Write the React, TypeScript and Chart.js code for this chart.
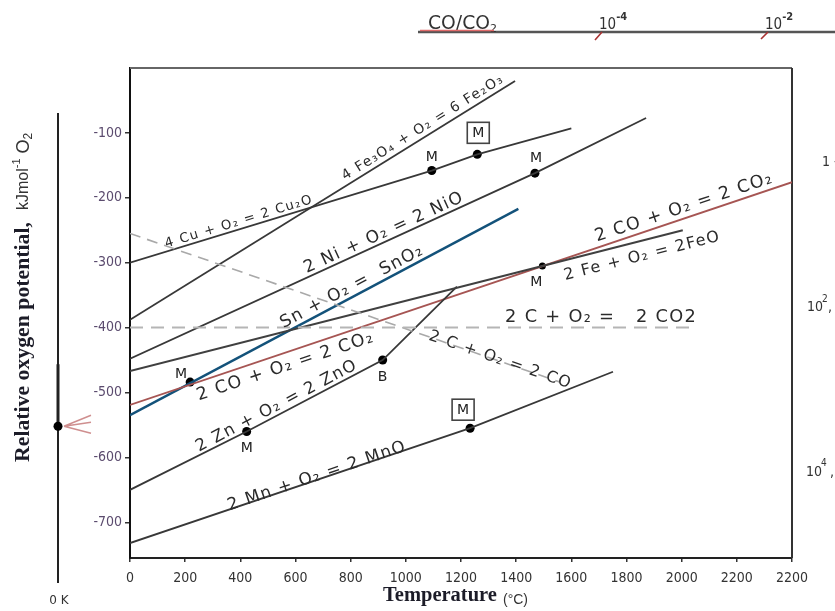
import React, { useEffect, useRef } from "react";
import { Chart, registerables } from "chart.js";

Chart.register(...registerables);

// ---------- data ----------
const xTickValues = [0, 200, 400, 600, 800, 1000, 1200, 1400, 1600, 1800, 2000, 2200, 2400];
const xTickLabels = ["0", "200", "400", "600", "800", "1000", "1200", "1400", "1600", "1800", "2000", "2200", "2200"];
const yTickValues = [-100, -200, -300, -400, -500, -600, -700];

// [temperature °C, relative oxygen potential kJ/mol O2]
const cu2oLine: number[][] = [[0, -300], [1094, -158], [1259, -133], [1600, -93]];
const fe2o3Line: number[][] = [[0, -388], [1396, -20]];
const nioLine: number[][] = [[0, -448], [1468, -162], [1871, -77]];
const sno2Line: number[][] = [[0, -535], [1408, -217]];
const coToCo2Line: number[][] = [[0, -519], [2400, -176]];
const feoLine: number[][] = [[0, -467], [1495, -305], [2004, -250]];
const znoLine: number[][] = [[0, -650], [423, -560], [916, -450], [1185, -337]];
const mnoLine: number[][] = [[0, -732], [1233, -555], [1751, -468]];
const cToCo2Line: number[][] = [[0, -400], [2050, -400]];
const cToCoLine: number[][] = [[0, -255], [1559, -484]];

const markerT = [1094, 1259, 1468, 218, 1495, 423, 916, 1233];
const markerG = [-158, -133, -162, -484, -305, -560, -450, -555];
const markerText = ["M", "M", "M", "M", "M", "M", "B", "M"];
const markerBoxed = [false, true, false, false, false, false, false, true];

const zeroKelvinG = -552;

const reactionLabels = [
  { text: "4 Cu + O₂ = 2 Cu₂O", t: 395, g: -237, line: cu2oLine, seg: [0, 1] },
  { text: "4 Fe₃O₄ + O₂ = 6 Fe₂O₃", t: 1062, g: -92, line: fe2o3Line, seg: [0, 1] },
  { text: "2 Ni + O₂ = 2 NiO", t: 921, g: -254, line: nioLine, seg: [0, 1] },
  { text: "Sn + O₂ =  SnO₂", t: 805, g: -337, line: sno2Line, seg: [0, 1] },
  { text: "2 CO + O₂ = 2 CO₂", t: 2009, g: -215, line: coToCo2Line, seg: [0, 1] },
  { text: "2 Fe + O₂ = 2FeO", t: 1857, g: -290, line: feoLine, seg: [1, 2] },
  { text: "2 C + O₂ =   2 CO2", t: 1708, g: -385, line: cToCo2Line, seg: [0, 1] },
  { text: "2 CO + O₂ = 2 CO₂", t: 564, g: -460, line: coToCo2Line, seg: [0, 1] },
  { text: "2 C + O₂ = 2 CO", t: 1342, g: -450, line: cToCoLine, seg: [0, 1] },
  { text: "2 Zn + O₂ = 2 ZnO", t: 532, g: -521, line: znoLine, seg: [1, 2] },
  { text: "2 Mn + O₂ = 2 MnO", t: 678, g: -629, line: mnoLine, seg: [0, 1] },
];

// ---------- styles ----------
const labelWidths = [154, 188, 174, 160, 187, 161, 192, 186, 150, 180, 188];
const markerOffsets = [[0, -14], [1, -22], [1, -16], [-9, -9], [-6, 15], [0, 16], [0, 16], [-7, -19]];
const SANS = '"DejaVu Sans", "Liberation Sans", sans-serif';
const NARROW = '"Liberation Sans Narrow", "DejaVu Sans Condensed", "Liberation Sans", sans-serif';
const SERIF = '"Liberation Serif", "DejaVu Serif", serif';
const LETTER_SP = 1.3;

const toXY = (pts: number[][]) => pts.map(([x, y]) => ({ x, y }));

const decorPlugin = {
  id: "decor",
  beforeDatasetsDraw(chart: any) {
    const { ctx, chartArea: a } = chart;
    ctx.save();
    ctx.strokeStyle = "#666";
    ctx.lineWidth = 2;
    ctx.beginPath();
    ctx.moveTo(a.left, a.top);
    ctx.lineTo(a.right, a.top);
    ctx.stroke();
    ctx.strokeStyle = "#333";
    ctx.beginPath();
    ctx.moveTo(a.right, a.top);
    ctx.lineTo(a.right, a.bottom);
    ctx.stroke();
    ctx.restore();
  },
  afterDatasetsDraw(chart: any) {
    const { ctx } = chart;
    const xs = chart.scales.x;
    const ys = chart.scales.y;
    ctx.save();
    ctx.fillStyle = "#2b2b2b";
    ctx.textAlign = "center";
    ctx.textBaseline = "middle";
    reactionLabels.forEach((lb, i) => {
      const p1 = lb.line[lb.seg[0]];
      const p2 = lb.line[lb.seg[1]];
      const x1 = xs.getPixelForValue(p1[0]);
      const y1 = ys.getPixelForValue(p1[1]);
      const x2 = xs.getPixelForValue(p2[0]);
      const y2 = ys.getPixelForValue(p2[1]);
      const ang = Math.atan2(y2 - y1, x2 - x1);
      (ctx as any).letterSpacing = "0px";
      ctx.font = `15px ${SANS}`;
      const w = ctx.measureText(lb.text).width;
      const n = [...lb.text].length;
      const size = (15 * (labelWidths[i] - n * LETTER_SP)) / w;
      ctx.font = `${size.toFixed(2)}px ${SANS}`;
      (ctx as any).letterSpacing = `${LETTER_SP}px`;
      ctx.save();
      ctx.translate(xs.getPixelForValue(lb.t), ys.getPixelForValue(lb.g));
      ctx.rotate(ang);
      ctx.fillText(lb.text, 0, 0);
      ctx.restore();
    });
    (ctx as any).letterSpacing = "0px";
    // marker letters
    ctx.font = `14px ${SANS}`;
    markerT.forEach((t, i) => {
      const px = xs.getPixelForValue(t) + markerOffsets[i][0];
      const py = ys.getPixelForValue(markerG[i]) + markerOffsets[i][1];
      ctx.fillStyle = "#222";
      ctx.fillText(markerText[i], px, py + 1);
      if (markerBoxed[i]) {
        ctx.strokeStyle = "#444";
        ctx.lineWidth = 1.6;
        ctx.strokeRect(px - 11, py - 10, 22, 21);
      }
    });
    ctx.restore();
  },
  afterDraw(chart: any) {
    const { ctx } = chart;
    const ys = chart.scales.y;
    ctx.save();
    // top CO/CO2 scale
    ctx.strokeStyle = "#555";
    ctx.lineWidth = 2.5;
    ctx.beginPath();
    ctx.moveTo(418, 32);
    ctx.lineTo(835, 32);
    ctx.stroke();
    ctx.fillStyle = "#333";
    ctx.textBaseline = "alphabetic";
    ctx.textAlign = "left";
    ctx.font = `17px ${SANS}`;
    const wco0 = ctx.measureText("CO/CO").width;
    ctx.font = `${((17 * 62) / wco0).toFixed(2)}px ${SANS}`;
    ctx.fillText("CO/CO", 428, 29);
    const wco = ctx.measureText("CO/CO").width;
    ctx.font = `11px ${SANS}`;
    ctx.fillText("2", 428 + wco, 32);
    ctx.strokeStyle = "#e06a6a";
    ctx.lineWidth = 1.5;
    ctx.beginPath();
    ctx.moveTo(420, 30.5);
    ctx.lineTo(494, 30.5);
    ctx.stroke();
    const pw = (x: number, exp: string) => {
      ctx.fillStyle = "#333";
      ctx.font = `15px ${NARROW}`;
      ctx.fillText("10", x, 29);
      const w = ctx.measureText("10").width;
      ctx.font = `bold 11px ${NARROW}`;
      ctx.fillText(exp, x + w, 20);
    };
    pw(599, "-4");
    pw(765, "-2");
    ctx.strokeStyle = "#a33";
    ctx.lineWidth = 1.6;
    ctx.beginPath();
    ctx.moveTo(595, 40);
    ctx.lineTo(602, 32);
    ctx.moveTo(761, 39);
    ctx.lineTo(768, 32);
    ctx.stroke();

    // 0 K line on the left
    ctx.strokeStyle = "#222";
    ctx.lineWidth = 2;
    ctx.beginPath();
    ctx.moveTo(58, 113);
    ctx.lineTo(58, 583);
    ctx.stroke();
    const zy = ys.getPixelForValue(zeroKelvinG);
    ctx.lineWidth = 3;
    ctx.beginPath();
    ctx.moveTo(58, zy - 62);
    ctx.lineTo(58, zy);
    ctx.stroke();
    ctx.fillStyle = "#000";
    ctx.beginPath();
    ctx.arc(58, zy, 4.5, 0, Math.PI * 2);
    ctx.fill();
    ctx.strokeStyle = "#cf8f8f";
    ctx.lineWidth = 1.5;
    ctx.beginPath();
    ctx.moveTo(64, zy);
    ctx.lineTo(91, zy - 11);
    ctx.moveTo(64, zy);
    ctx.lineTo(91, zy - 4);
    ctx.moveTo(64, zy);
    ctx.lineTo(91, zy + 7);
    ctx.stroke();
    ctx.fillStyle = "#333";
    ctx.font = `12px ${SANS}`;
    ctx.textAlign = "center";
    ctx.fillText("0 K", 59, 604);

    // right side cut-off labels
    ctx.textAlign = "left";
    ctx.fillStyle = "#333";
    ctx.font = `14px ${NARROW}`;
    ctx.fillText("1 -", 822, 166);
    ctx.fillText("10", 807, 311);
    ctx.fillText("10", 806, 476);
    ctx.font = `10px ${NARROW}`;
    ctx.fillText("2", 822, 302);
    ctx.fillText("4", 821, 466);
    ctx.font = `14px ${NARROW}`;
    ctx.fillText(",", 828, 311);
    ctx.fillText(",", 830, 476);

    // y title
    ctx.save();
    ctx.translate(23, 462);
    ctx.rotate(-Math.PI / 2);
    ctx.textAlign = "left";
    ctx.textBaseline = "middle";
    ctx.fillStyle = "#1c1c28";
    ctx.font = `bold 17px ${SERIF}`;
    const t1 = "Relative oxygen potential,";
    const w1 = ctx.measureText(t1).width;
    const s1 = (17 * 240) / w1;
    ctx.font = `bold ${s1.toFixed(2)}px ${SERIF}`;
    ctx.fillText(t1, 0, 0);
    let x = 252;
    ctx.font = `16px "Liberation Sans", sans-serif`;
    ctx.fillStyle = "#333";
    ctx.fillText("kJmol", x, 1);
    x += ctx.measureText("kJmol").width;
    ctx.font = `11px "Liberation Sans", sans-serif`;
    ctx.fillText("-1", x, -6);
    x += ctx.measureText("-1").width + 5;
    ctx.font = `18px "Liberation Sans", sans-serif`;
    ctx.fillText("O", x, 1);
    x += ctx.measureText("O").width;
    ctx.font = `12px "Liberation Sans", sans-serif`;
    ctx.fillText("2", x, 6);
    ctx.restore();

    // x title
    ctx.textBaseline = "alphabetic";
    ctx.textAlign = "left";
    ctx.fillStyle = "#1c1c28";
    ctx.font = `bold 17px ${SERIF}`;
    const t2 = "Temperature";
    const w2 = ctx.measureText(t2).width;
    ctx.font = `bold ${((17 * 114) / w2).toFixed(2)}px ${SERIF}`;
    ctx.fillText(t2, 383, 601);
    ctx.font = `14px "Liberation Sans", sans-serif`;
    ctx.fillStyle = "#333";
    ctx.fillText("(°C)", 503, 604);
    ctx.restore();
  },
};

export default function App() {
  const ref = useRef<HTMLCanvasElement | null>(null);
  useEffect(() => {
    if (!ref.current) return;
    const dark = "#383838";
    const lineDs = (label: string, pts: number[][], color: string, width: number, dash: number[] = []) => ({
      type: "line" as const,
      label,
      data: toXY(pts),
      borderColor: color,
      borderWidth: width,
      borderDash: dash,
      pointRadius: 0,
      fill: false,
      tension: 0,
    });
    const chart = new Chart(ref.current, {
      type: "line",
      data: {
        datasets: [
          lineDs("2C + O2 = 2CO2", cToCo2Line, "#b5b5b5", 2, [13, 8]),
          lineDs("2C + O2 = 2CO", cToCoLine, "#a9a9a9", 1.6, [11, 7]),
          lineDs("Cu2O", cu2oLine, dark, 1.8),
          lineDs("Fe2O3", fe2o3Line, dark, 1.8),
          lineDs("NiO", nioLine, dark, 1.8),
          lineDs("FeO", feoLine, "#404040", 2),
          lineDs("ZnO", znoLine, dark, 1.8),
          lineDs("MnO", mnoLine, dark, 1.8),
          lineDs("CO2", coToCo2Line, "#a65553", 1.8),
          lineDs("SnO2", sno2Line, "#13527a", 2.4),
          {
            type: "scatter" as const,
            label: "points",
            data: markerT.map((t, i) => ({ x: t, y: markerG[i] })),
            pointRadius: markerT.map((_, i) => (i === 4 ? 3.5 : 4.5)),
            pointBackgroundColor: "#000",
            pointBorderWidth: 0,
            showLine: false,
          } as any,
        ],
      },
      options: {
        responsive: false,
        animation: false,
        events: [],
        layout: { padding: { top: 68, right: 43, left: 0, bottom: 0 } },
        plugins: { legend: { display: false }, tooltip: { enabled: false } },
        scales: {
          x: {
            type: "linear",
            min: 0,
            max: 2400,
            afterFit(s: any) {
              s.height = 53;
            },
            afterBuildTicks(s: any) {
              s.ticks = xTickValues.map((v) => ({ value: v }));
            },
            ticks: {
              autoSkip: false,
              maxRotation: 0,
              padding: 8,
              color: "#333",
              font: { size: 14, family: NARROW },
              callback: (_v: any, i: number) => xTickLabels[i],
            },
            grid: { drawOnChartArea: false, drawTicks: true, tickLength: 4, color: "#333", lineWidth: 1.5 },
            border: { color: "#222", width: 2 },
          },
          y: {
            type: "linear",
            min: -755,
            max: 0,
            afterFit(s: any) {
              s.width = 130;
            },
            afterBuildTicks(s: any) {
              s.ticks = yTickValues.map((v) => ({ value: v }));
            },
            ticks: {
              padding: 3,
              color: "#5b4b6e",
              font: { size: 14, family: NARROW },
              callback: (v: any) => String(v),
            },
            grid: { drawOnChartArea: false, drawTicks: true, tickLength: 5, color: "#333", lineWidth: 1.5 },
            border: { color: "#111", width: 2 },
          },
        },
      } as any,
      plugins: [decorPlugin],
    });
    return () => chart.destroy();
  }, []);
  return (
    <div style={{ position: "absolute", left: 0, top: 0, width: 835, height: 611, background: "#fff" }}>
      <canvas ref={ref} width={835} height={611} style={{ display: "block", width: 835, height: 611 }} />
    </div>
  );
}
